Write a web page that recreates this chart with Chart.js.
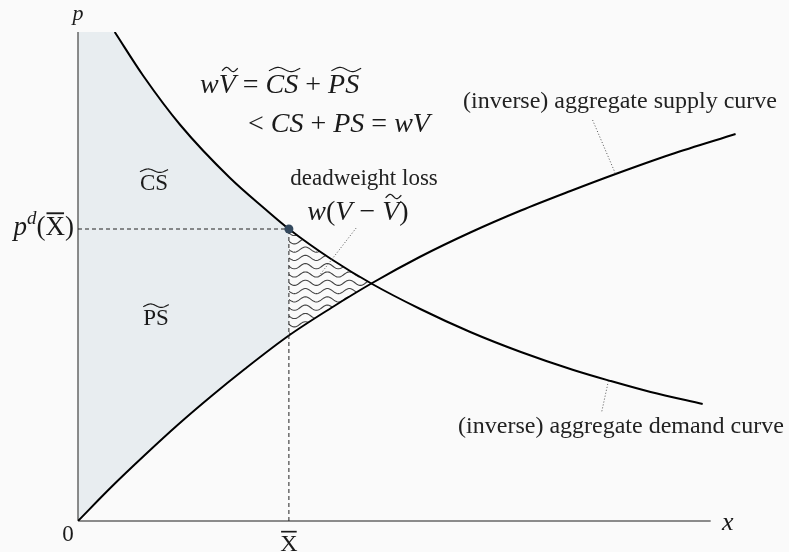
<!DOCTYPE html>
<html>
<head>
<meta charset="utf-8">
<script src="https://cdn.jsdelivr.net/npm/chart.js@4.4.1/dist/chart.umd.min.js"></script>
<style>
  html, body { margin: 0; padding: 0; background: #fafafa; }
  #wrap { width: 789px; height: 552px; position: relative; }
</style>
</head>
<body>
<div id="wrap"><canvas id="surplus-chart"></canvas></div>
<script>
// (inverse) aggregate demand curve
const demandX = [0.174, 0.31, 0.485, 0.721, 0.887, 1.0, 1.2, 1.395, 1.623, 1.86, 2.1, 2.349, 2.525, 2.715, 2.962];
const demandP = [4.89, 4.45, 3.96, 3.43, 3.12, 2.92, 2.62, 2.37, 2.12, 1.89, 1.69, 1.51, 1.40, 1.29, 1.17];

// (inverse) aggregate supply curve
const supplyX = [0, 0.158, 0.317, 0.475, 0.633, 0.791, 1.0, 1.2, 1.395, 1.62, 1.86, 2.1, 2.335, 2.549, 2.81, 3.118];
const supplyP = [0, 0.34, 0.66, 0.965, 1.25, 1.52, 1.855, 2.13, 2.38, 2.64, 2.885, 3.105, 3.30, 3.47, 3.665, 3.87];

const xBar = 1.0;      // capped quantity X̄
const pBar = 2.92;     // p^d(X̄)
const xCross = 1.395;  // where supply meets demand
const xAxisEnd = 3.0;
const pAxisTop = 4.89;

// dotted pointer lines from the labels to the curves
const supplyPointer = [[2.44, 4.01], [2.549, 3.47]];
const demandPointer = [[2.515, 1.40], [2.482, 1.08]];
const lossPointer = [[1.319, 2.93], [1.139, 2.44]];

const BG = "#fafafa";
const SHADE = "#e8edf0";
const INK = "#1a1a1a";
const SERIF = '"Liberation Serif", "DejaVu Serif", serif';

const pts = (xs, ys) => xs.map((x, i) => ({ x, y: ys[i] }));
const pairPts = pairs => pairs.map(([x, y]) => ({ x, y }));

const curve = {
  borderColor: "#000",
  borderWidth: 2,
  pointRadius: 0,
  cubicInterpolationMode: "monotone",
  fill: false,
};
const pointer = {
  borderColor: "#555",
  borderWidth: 1,
  borderDash: [1, 2],
  pointRadius: 0,
  fill: false,
};
const dashed = {
  borderColor: "#222",
  borderWidth: 1,
  borderDash: [4, 3],
  pointRadius: 0,
  fill: false,
};
const axisLine = {
  borderColor: "#666",
  borderWidth: 1.5,
  pointRadius: 0,
  fill: false,
  clip: false,
};

// supply points up to X̄ bound the shaded surplus area
const shadeX = supplyX.filter(x => x <= xBar);
const shadeP = supplyP.slice(0, shadeX.length);

// ---- text helpers (math-style labels) ----
function setFont(ctx, part, size) {
  const s = part.sup ? size * 0.7 : size;
  ctx.font = `${part.it ? "italic " : ""}${s}px ${SERIF}`;
}

function drawTilde(ctx, x0, x1, y, amp) {
  ctx.save();
  ctx.lineWidth = 1.2;
  ctx.beginPath();
  const w = x1 - x0;
  for (let i = 0; i <= 30; i++) {
    const t = i / 30;
    const yy = y - amp * Math.sin(2 * Math.PI * (t * 1.2 - 0.1));
    i === 0 ? ctx.moveTo(x0 + w * t, yy) : ctx.lineTo(x0 + w * t, yy);
  }
  ctx.stroke();
  ctx.restore();
}

function drawRich(ctx, parts, x, y, size, align) {
  let total = 0;
  parts.forEach(p => { setFont(ctx, p, size); total += ctx.measureText(p.t).width; });
  let cx = align === "center" ? x - total / 2 : align === "right" ? x - total : x;
  ctx.textAlign = "left";
  ctx.textBaseline = "alphabetic";
  parts.forEach(p => {
    setFont(ctx, p, size);
    const w = ctx.measureText(p.t).width;
    const by = p.sup ? y - size * 0.42 : y;
    ctx.fillText(p.t, cx, by);
    if (p.tilde) {
      const shift = p.it ? size * 0.12 : 0;
      drawTilde(ctx, cx + shift, cx + w + shift * 0.6, by - size * 0.84, size * 0.075);
    }
    if (p.bar) {
      ctx.fillRect(cx + w * 0.05, by - size * 0.84, w * 0.9, Math.max(1.5, size * 0.07));
    }
    cx += w;
  });
}

// wavy hatching over the deadweight loss triangle
const lossHatch = {
  id: "lossHatch",
  beforeDatasetsDraw(chart) {
    const { ctx, chartArea: area, scales } = chart;
    const xs = scales.x, ys = scales.y;
    const left = xs.getPixelForValue(xBar);
    const right = xs.getPixelForValue(xCross);
    const top = ys.getPixelForValue(pBar);
    const bottom = ys.getPixelForValue(shadeP[shadeP.length - 1]);

    const supLine = chart.getDatasetMeta(6).dataset;
    const demLine = chart.getDatasetMeta(7).dataset;
    supLine.updateControlPoints(area, "x");
    demLine.updateControlPoints(area, "x");

    ctx.save();
    ctx.beginPath();
    ctx.rect(left, area.top, right - left, area.bottom - area.top);
    ctx.clip();
    // below demand
    ctx.beginPath();
    demLine.path(ctx);
    ctx.lineTo(area.right, area.bottom);
    ctx.lineTo(area.left, area.bottom);
    ctx.closePath();
    ctx.clip();
    // above supply
    ctx.beginPath();
    supLine.path(ctx);
    ctx.lineTo(area.right, area.top);
    ctx.lineTo(area.left, area.top);
    ctx.closePath();
    ctx.clip();

    ctx.strokeStyle = "#444";
    ctx.lineWidth = 1.1;
    for (let y = top + 4; y < bottom + 4; y += 8.3) {
      ctx.beginPath();
      for (let x = left; x <= right + 1; x += 1) {
        const yy = y + 2.6 * Math.sin(((x - left) / 22) * 2 * Math.PI);
        x === left ? ctx.moveTo(x, yy) : ctx.lineTo(x, yy);
      }
      ctx.stroke();
    }
    ctx.restore();
  },
};

// axis letters, tick labels and annotations
const annotations = {
  id: "annotations",
  afterDraw(chart) {
    const { ctx, scales } = chart;
    const xs = scales.x, ys = scales.y;
    ctx.save();
    ctx.fillStyle = INK;
    ctx.strokeStyle = INK;

    drawRich(ctx, [{ t: "p", it: true }], xs.getPixelForValue(0), 20, 22, "center");
    drawRich(ctx, [{ t: "x", it: true }], 722, 530, 26, "left");
    drawRich(ctx, [{ t: "0" }], 68, 541, 23, "center");
    drawRich(ctx, [{ t: "X", bar: true }], xs.getPixelForValue(xBar), 551, 24, "center");
    drawRich(ctx, [
      { t: "p", it: true }, { t: "d", it: true, sup: true },
      { t: "(" }, { t: "X", bar: true }, { t: ")" },
    ], 74, ys.getPixelForValue(pBar) + 6, 27, "right");

    drawRich(ctx, [{ t: "CS", tilde: true }], 154, 190, 23, "center");
    drawRich(ctx, [{ t: "PS", tilde: true }], 156, 325, 23, "center");

    drawRich(ctx, [
      { t: "w", it: true }, { t: "V", it: true, tilde: true }, { t: " = " },
      { t: "CS", it: true, tilde: true }, { t: " + " }, { t: "PS", it: true, tilde: true },
    ], 200, 93, 28, "left");
    drawRich(ctx, [
      { t: "< " }, { t: "CS", it: true }, { t: " + " }, { t: "PS", it: true },
      { t: " = " }, { t: "w", it: true }, { t: "V", it: true },
    ], 248, 132, 28, "left");

    ctx.fillStyle = "#222";
    drawRich(ctx, [{ t: "deadweight loss" }], 364, 185, 23, "center");
    ctx.fillStyle = INK;
    drawRich(ctx, [
      { t: "w", it: true }, { t: "(" }, { t: "V", it: true }, { t: " \u2212 " },
      { t: "V", it: true, tilde: true }, { t: ")" },
    ], 358, 220, 28, "center");

    ctx.fillStyle = "#222";
    drawRich(ctx, [{ t: "(inverse) aggregate supply curve" }], 620, 108, 24, "center");
    drawRich(ctx, [{ t: "(inverse) aggregate demand curve" }], 621, 433, 24, "center");
    ctx.restore();
  },
};

const ctx = document.getElementById("surplus-chart").getContext("2d");
new Chart(ctx, {
  type: "line",
  data: {
    datasets: [
      // 0: the capped point on the demand curve
      {
        data: [{ x: xBar, y: pBar }],
        showLine: false,
        pointRadius: 4.5,
        pointBackgroundColor: "#34495e",
        pointBorderWidth: 0,
      },
      { ...dashed, data: [{ x: 0, y: pBar }, { x: xBar, y: pBar }] },
      { ...dashed, data: [{ x: xBar, y: 0 }, { x: xBar, y: pBar }] },
      { ...pointer, data: pairPts(supplyPointer) },
      { ...pointer, data: pairPts(demandPointer) },
      { ...pointer, data: pairPts(lossPointer) },
      // 6: supply
      { ...curve, data: pts(supplyX, supplyP) },
      // 7: demand, clearing everything above it back to the page colour
      { ...curve, data: pts(demandX, demandP), fill: "end", backgroundColor: BG },
      { ...axisLine, data: [{ x: 0, y: 0 }, { x: xAxisEnd, y: 0 }] },
      { ...axisLine, data: [{ x: 0, y: 0 }, { x: 0, y: pAxisTop }] },
      // surplus area above supply, left of X̄
      {
        data: pts(shadeX, shadeP),
        borderWidth: 0,
        pointRadius: 0,
        cubicInterpolationMode: "monotone",
        fill: "end",
        backgroundColor: SHADE,
      },
    ],
  },
  options: {
    animation: false,
    responsive: true,
    maintainAspectRatio: false,
    layout: { padding: { left: 78, right: 0, top: 32, bottom: 31 } },
    scales: {
      x: { type: "linear", min: 0, max: 3.35, display: false },
      y: { type: "linear", min: 0, max: pAxisTop, display: false },
    },
    plugins: {
      legend: { display: false },
      tooltip: { enabled: false },
    },
  },
  plugins: [lossHatch, annotations],
});
</script>
</body>
</html>
